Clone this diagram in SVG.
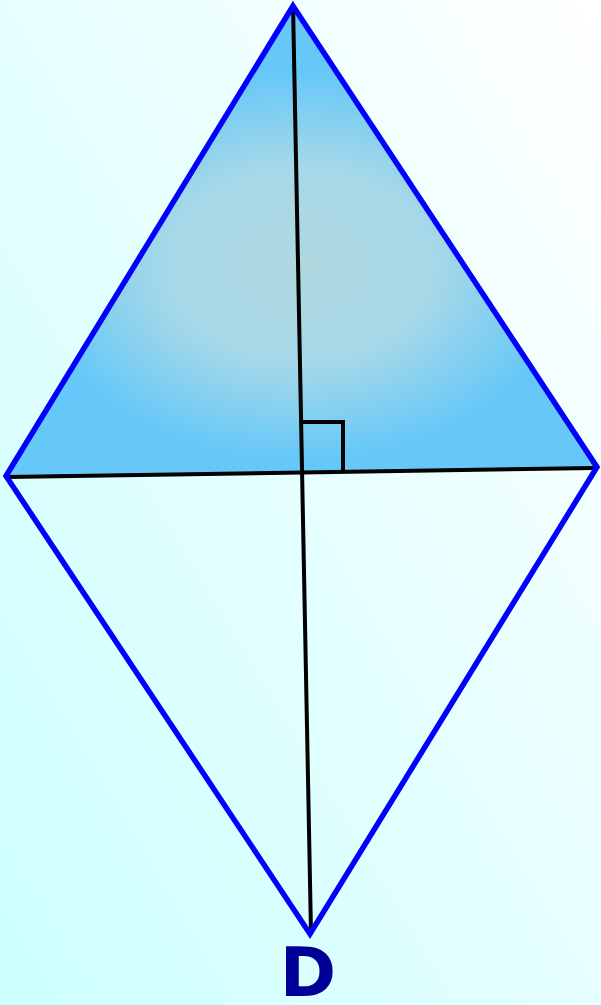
<svg xmlns="http://www.w3.org/2000/svg" width="601" height="1005" viewBox="0 0 601 1005">
<defs>
<linearGradient id="bg" x1="0" y1="1" x2="1" y2="0">
<stop offset="0" stop-color="#ccffff"/>
<stop offset="1" stop-color="#ffffff"/>
</linearGradient>
<radialGradient id="tri" cx="300" cy="265" r="270" gradientUnits="userSpaceOnUse" gradientTransform="translate(300 265) scale(1 0.72) translate(-300 -265)">
<stop offset="0" stop-color="#b0d8e0"/>
<stop offset="0.5" stop-color="#a6d8e8"/>
<stop offset="1" stop-color="#66c8f8"/>
</radialGradient>
<style>
.edge{fill:none;stroke:#0000ff;stroke-width:5.5;stroke-linejoin:miter}
.diag{fill:none;stroke:#000;stroke-width:4}
.lbl{font-family:"DejaVu Sans","Liberation Sans",sans-serif;font-weight:bold;fill:#000099}
</style>
</defs>
<rect width="601" height="1005" fill="url(#bg)"/>
<g id="triangle">
<polygon points="293,6 595,468 7,476" fill="url(#tri)" stroke="#000" stroke-width="1"/>
</g>
<g id="connectors">
<line class="diag" x1="293" y1="4" x2="311" y2="933"/>
<line class="diag" x1="7" y1="477" x2="595" y2="468"/>
<polyline points="301,422 343,422 343,470" fill="none" stroke="#000" stroke-width="4"/>
</g>
<g id="rhombus">
<polygon class="edge" points="293,6 597,467 310,934 6,476"/>
</g>
<g id="label-D">
<text class="lbl" x="308" y="996" font-size="68" text-anchor="middle">D</text>
</g>
</svg>
